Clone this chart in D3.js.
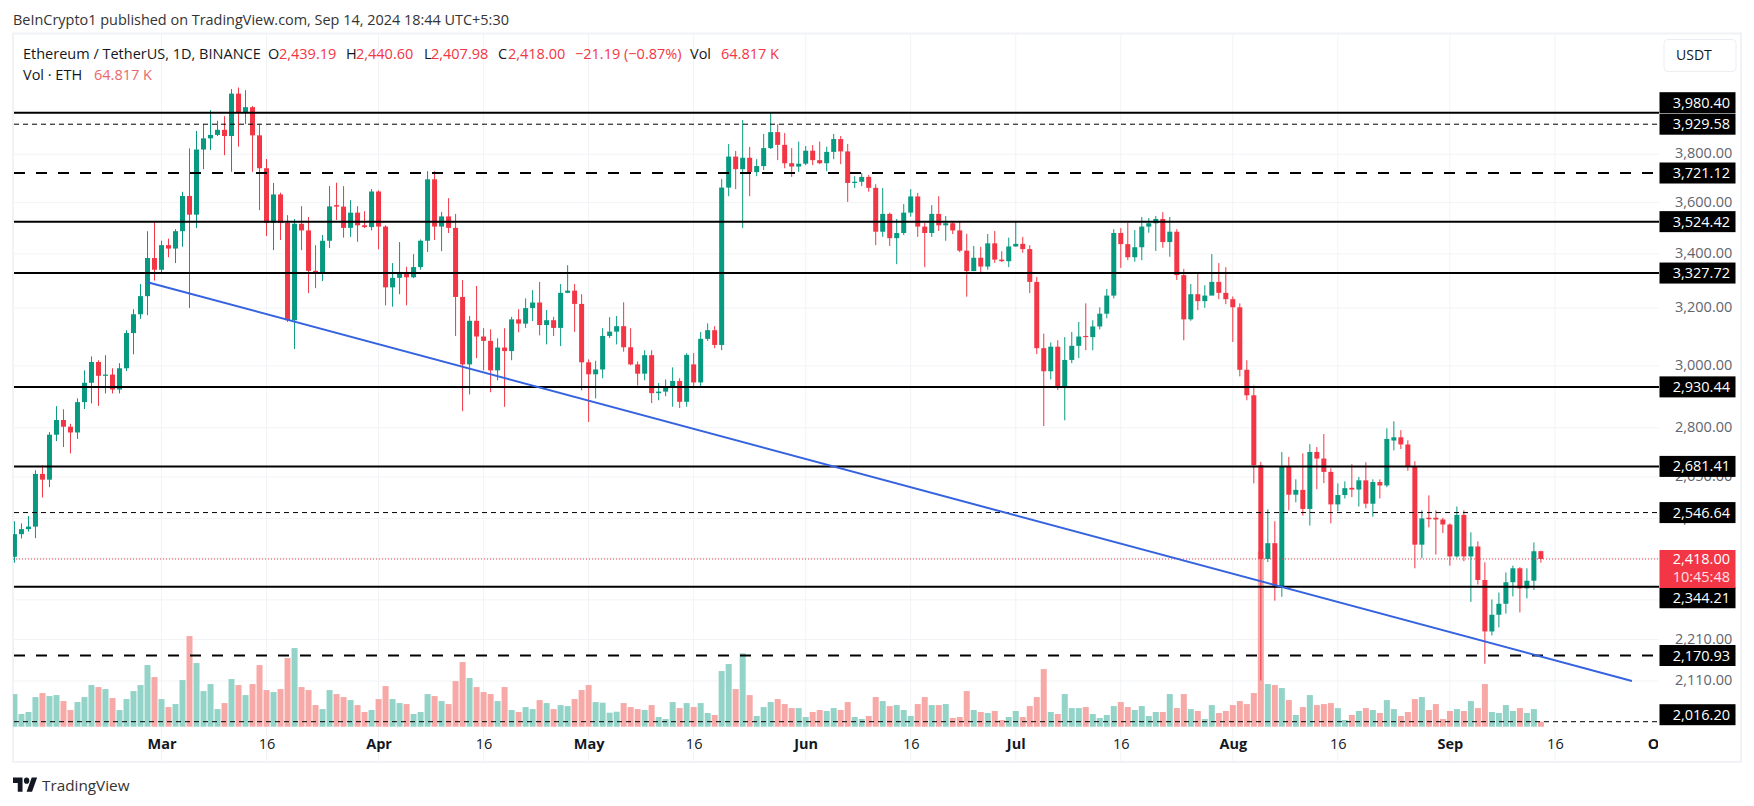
<!DOCTYPE html>
<html lang="en">
<head>
<meta charset="utf-8">
<script src="https://cdn.jsdelivr.net/npm/d3@7"></script>
<style>
  body { margin: 0; background: #fff; }
  text { font-family: "Open Sans", sans-serif; }
</style>
</head>
<body>
<svg id="chart" width="1754" height="806"></svg>
<script>
// daily candles, first one is 2024-02-09
var firstDay = "2024-02-09";

var opens = [
  2424,2486,2500,2507,2659,2642,2778,2824,2803,2785,
  2881,2944,3013,2967,2971,2922,2992,3112,3178,3243,
  3384,3340,3433,3420,3487,3627,3552,3820,3868,3883,
  3905,3878,4066,3982,4005,3881,3741,3520,3633,3520,
  3157,3516,3490,3336,3330,3450,3590,3584,3500,3560,
  3510,3503,3645,3505,3275,3310,3330,3312,3350,3450,
  3695,3505,3545,3500,3240,3005,3155,3100,3085,2985,
  3062,3050,3160,3145,3200,3220,3140,3157,3130,3255,
  3263,3215,3012,2972,2988,3102,3117,3136,3063,3005,
  2974,3036,2910,2915,2930,2950,2882,3005,2945,3092,
  3122,3071,3661,3790,3737,3785,3725,3750,3826,3895,
  3840,3762,3748,3760,3815,3775,3762,3810,3865,3812,
  3680,3685,3705,3660,3485,3555,3460,3480,3560,3625,
  3505,3480,3555,3510,3518,3490,3412,3335,3385,3352,
  3440,3378,3372,3428,3438,3418,3295,3060,2982,3065,
  2932,3020,3068,3102,3098,3135,3180,3245,3480,3437,
  3387,3425,3505,3518,3535,3445,3485,3320,3160,3250,
  3225,3245,3295,3255,3232,3203,2987,2903,2685,2418,
  2461,2342,2682,2598,2612,2557,2725,2705,2665,2570,
  2597,2618,2613,2640,2572,2635,2625,2760,2770,2748,
  2680,2457,2532,2532,2527,2513,2425,2540,2425,2452,
  2362,2230,2272,2300,2356,2393,2340,2360,2439.19
];
var highs = [
  2522,2516,2537,2670,2685,2786,2868,2858,2812,2893,
  2985,3032,3019,3036,2992,3009,3122,3196,3287,3487,
  3522,3450,3458,3495,3644,3825,3900,3930,3992,3945,
  3965,4087,4094,4082,4010,3930,3780,3680,3640,3550,
  3535,3586,3543,3433,3472,3667,3681,3667,3610,3586,
  3566,3655,3650,3510,3365,3445,3351,3399,3455,3729,
  3729,3563,3618,3555,3302,3172,3280,3129,3125,3094,
  3129,3169,3196,3235,3265,3295,3193,3169,3287,3357,
  3287,3250,3022,3017,3129,3168,3172,3221,3129,3015,
  3053,3053,2943,2955,2995,2959,3043,3043,3116,3146,
  3136,3696,3844,3814,3948,3831,3779,3887,3979,3930,
  3891,3826,3854,3835,3839,3854,3832,3887,3878,3844,
  3708,3721,3713,3675,3659,3560,3535,3594,3655,3639,
  3519,3590,3626,3547,3524,3525,3477,3430,3427,3476,
  3488,3410,3462,3524,3465,3433,3313,3110,3080,3087,
  3098,3116,3151,3217,3157,3203,3269,3495,3499,3519,
  3491,3543,3539,3547,3562,3543,3495,3343,3287,3328,
  3283,3399,3365,3350,3242,3217,3019,2935,2695,2556,
  2522,2725,2710,2643,2721,2749,2740,2780,2676,2631,
  2637,2688,2650,2694,2643,2643,2798,2820,2792,2761,
  2697,2553,2596,2553,2532,2516,2564,2553,2491,2466,
  2409,2311,2329,2382,2400,2396,2393,2463,2440.6
];
var lows = [
  2408,2474,2493,2475,2590,2620,2758,2740,2721,2765,
  2859,2877,2869,2909,2909,2909,2983,3039,3162,3175,
  3300,3331,3387,3365,3427,3200,3499,3737,3818,3878,
  3796,3726,3832,3930,3726,3570,3468,3414,3453,3151,
  3057,3414,3254,3272,3298,3422,3531,3462,3465,3446,
  3499,3490,3417,3210,3205,3250,3210,3309,3340,3407,
  3453,3410,3480,3102,2852,2906,3026,2985,2913,2952,
  2866,3019,3115,3130,3154,3104,3073,3102,3067,3254,
  3116,2919,2818,2893,2959,3095,3073,3048,3002,2935,
  2952,2878,2887,2900,2866,2862,2866,2926,2932,3085,
  3060,3053,3626,3655,3499,3626,3708,3733,3822,3775,
  3741,3705,3726,3754,3754,3758,3729,3779,3758,3603,
  3659,3667,3644,3433,3465,3430,3361,3472,3544,3465,
  3350,3465,3488,3450,3476,3406,3241,3335,3330,3340,
  3366,3370,3350,3427,3404,3254,3040,2805,2955,2920,
  2823,3009,3026,3053,3053,3125,3164,3235,3347,3376,
  3370,3376,3481,3411,3423,3389,3302,3087,3155,3193,
  3201,3258,3232,3214,3081,2965,2887,2631,2111,2410,
  2308,2318,2553,2576,2538,2510,2614,2632,2516,2550,
  2587,2591,2564,2559,2535,2587,2620,2730,2734,2668,
  2393,2420,2505,2430,2489,2400,2422,2412,2305,2350,
  2151,2220,2240,2275,2319,2278,2314,2336,2407.98
];
var closes = [
  2486,2500,2507,2659,2642,2778,2824,2803,2785,2881,
  2944,3013,2967,2971,2922,2992,3112,3178,3243,3384,
  3340,3433,3420,3487,3627,3552,3820,3868,3883,3905,
  3878,4066,3982,4005,3881,3741,3520,3633,3520,3157,
  3516,3490,3336,3330,3450,3585,3584,3500,3560,3510,
  3503,3645,3505,3275,3310,3330,3312,3350,3450,3695,
  3505,3545,3500,3240,3005,3155,3100,3085,2985,3062,
  3050,3160,3145,3200,3220,3140,3157,3130,3255,3263,
  3215,3012,2972,2988,3102,3117,3136,3063,3005,2974,
  3036,2910,2915,2930,2950,2882,3037,2945,3092,3122,
  3071,3661,3790,3737,3785,3725,3750,3826,3895,3840,
  3762,3748,3760,3815,3775,3762,3810,3865,3812,3680,
  3685,3705,3660,3485,3555,3460,3480,3560,3625,3505,
  3480,3555,3510,3518,3490,3412,3335,3385,3352,3440,
  3378,3372,3428,3438,3418,3295,3060,2982,3065,2932,
  3020,3068,3100,3098,3135,3180,3245,3480,3437,3387,
  3425,3505,3518,3535,3445,3485,3320,3160,3250,3225,
  3245,3295,3255,3232,3203,2987,2903,2685,2418,2461,
  2342,2682,2598,2612,2557,2725,2705,2665,2570,2597,
  2617,2613,2640,2572,2635,2625,2765,2770,2748,2680,
  2457,2530,2528,2527,2513,2425,2540,2425,2452,2362,
  2230,2272,2300,2356,2393,2340,2360,2439,2418
];
// volume in thousands of ETH
var volumes = [
  424,165,191,385,437,398,411,333,217,320,
  385,541,515,489,372,217,359,463,541,801,
  645,359,255,294,606,1178,827,463,554,229,
  307,619,541,411,554,801,476,450,489,892,
  1022,515,476,281,229,476,424,385,346,281,
  191,217,359,528,359,307,294,165,191,424,
  398,333,294,593,840,632,515,450,424,333,
  515,217,191,255,229,346,307,229,281,268,
  359,476,541,320,312,182,195,307,255,229,
  217,281,126,100,320,242,307,255,307,178,
  152,723,814,489,953,411,139,255,320,359,
  294,242,242,126,191,217,204,242,217,320,
  126,100,139,385,333,268,281,217,139,294,
  385,281,281,294,113,126,463,217,191,178,
  204,87,126,204,126,268,385,749,191,165,
  424,242,242,255,165,113,152,268,320,255,
  217,268,139,191,191,424,242,424,229,204,
  100,281,178,204,281,333,294,437,2275,554,
  541,502,346,152,255,411,281,294,307,242,
  87,152,204,242,217,178,346,229,139,191,
  359,385,217,294,100,204,229,204,333,242,
  554,191,178,281,204,242,178,229,65
];

var priceTicks = [3800,3600,3400,3200,3000,2800,2650,2530,2420,2310,2210,2110];
var timeTicks = ["2024-03-01","2024-03-16","2024-04-01","2024-04-16","2024-05-01","2024-05-16","2024-06-01","2024-06-16","2024-07-01","2024-07-16","2024-08-01","2024-08-16","2024-09-01","2024-09-16","2024-10-01"];
var timeLabels = ["Mar","16","Apr","16","May","16","Jun","16","Jul","16","Aug","16","Sep","16","Oct"];

var solidLevels = [3980.40,3524.42,3327.72,2930.44,2681.41,2344.21];
var wideDashLevels = [3721.12,2170.93];
var thinDashLevels = [3929.58,2546.64,2016.20];
var lastPrice = 2418.00;
var trendDates = ["2024-02-28","2024-09-27"];
var trendPrices = [3294,2110];

var green = "#089981", red = "#f23645";
var left = 13, right = 1659, top_ = 33, bottom = 733;

var svg = d3.select("#chart");
var parse = d3.utcParse("%Y-%m-%d");
var data = opens.map(function(o,i){
  return {date:d3.utcDay.offset(parse(firstDay),i),o:o,h:highs[i],l:lows[i],c:closes[i],v:volumes[i]};
});

var x = d3.scaleUtc().domain([parse("2024-03-01"),parse("2024-09-16")]).range([161.5,1554.9]);
var y = d3.scaleLog().domain([3980.40,2016.20]).range([112.7,721.7]);
var yVol = d3.scaleLinear().domain([0,2300]).range([726.7,549.7]);

var defs = svg.append("defs");
defs.append("clipPath").attr("id","plot")
  .append("rect").attr("x",left).attr("y",top_).attr("width",right-left).attr("height",729);
defs.append("clipPath").attr("id","timeclip")
  .append("rect").attr("x",left).attr("y",-5).attr("width",right-left-1).attr("height",29);

// frame
svg.append("rect").attr("x",13).attr("y",33.5).attr("width",1728).attr("height",728.5)
  .attr("fill","#fff").attr("stroke","#f0f2f5").attr("stroke-width",2);

// grid
svg.append("g").selectAll("line").data(priceTicks).enter().append("line")
  .attr("x1",left).attr("x2",right).attr("y1",function(d){return y(d);}).attr("y2",function(d){return y(d);})
  .attr("stroke","#f1f3f6");
svg.append("g").selectAll("line").data(timeTicks.slice(0,-1)).enter().append("line")
  .attr("y1",top_).attr("y2",bottom+29).attr("x1",function(d){return x(parse(d));}).attr("x2",function(d){return x(parse(d));})
  .attr("stroke","#f1f3f6");

var plot = svg.append("g").attr("clip-path","url(#plot)");

// volume
plot.append("g").selectAll("rect").data(data).enter().append("rect")
  .attr("x",function(d){return x(d.date)-3;})
  .attr("width",6)
  .attr("y",function(d){return yVol(d.v);})
  .attr("height",function(d){return yVol(0)-yVol(d.v);})
  .attr("fill",function(d){return d.c>=d.o?"#94d3c8":"#f7a9a7";});

// candles
var candles = plot.append("g").selectAll("g").data(data).enter().append("g")
  .attr("fill",function(d){return d.c>=d.o?green:red;});
candles.append("rect")
  .attr("x",function(d){return x(d.date)-0.5;})
  .attr("width",1)
  .attr("y",function(d){return y(d.h);})
  .attr("height",function(d){return y(d.l)-y(d.h);});
candles.append("rect")
  .attr("x",function(d){return x(d.date)-2.5;})
  .attr("width",5)
  .attr("y",function(d){return y(Math.max(d.o,d.c));})
  .attr("height",function(d){return Math.max(1,Math.abs(y(d.o)-y(d.c)));});

// last price line
plot.append("line").attr("x1",left).attr("x2",right).attr("y1",y(lastPrice)).attr("y2",y(lastPrice))
  .attr("stroke",red).attr("stroke-dasharray","1,2");

// horizontal levels
function levels(values,width,dash){
  svg.append("g").selectAll("line").data(values).enter().append("line")
    .attr("x1",left+1).attr("x2",right)
    .attr("y1",function(d){return y(d);}).attr("y2",function(d){return y(d);})
    .attr("stroke","#000").attr("stroke-width",width)
    .attr("stroke-dasharray",dash);
}
levels(solidLevels,2,null);
levels(wideDashLevels,2,"11,11");
levels(thinDashLevels,1,"5,4");

// trend line
svg.append("line")
  .attr("x1",x(parse(trendDates[0]))).attr("y1",y(trendPrices[0]))
  .attr("x2",x(parse(trendDates[1]))).attr("y2",y(trendPrices[1]))
  .attr("stroke","#3563e0").attr("stroke-width",2);

// price axis
var priceAxis = svg.append("g").attr("transform","translate("+right+",0)")
  .call(d3.axisRight(y).tickValues(priceTicks).tickFormat(d3.format(",.2f")).tickSize(0).tickPadding(16));
priceAxis.select(".domain").remove();
priceAxis.selectAll("text").attr("font-family",null).attr("font-size",14.5).attr("fill","#62656f").attr("dy","0.25em");

// time axis
var timeAxis = svg.append("g").attr("transform","translate(0,738)").attr("clip-path","url(#timeclip)")
  .call(d3.axisBottom(x).tickValues(timeTicks.map(parse)).tickFormat(function(d,i){return timeLabels[i];}).tickSize(0).tickPadding(0));
timeAxis.select(".domain").remove();
timeAxis.selectAll("text").attr("font-family",null).attr("font-size",14.5).attr("fill","#131722")
  .attr("font-weight",function(d,i){return timeLabels[i]=="16"?400:700;})
  .attr("dy","0.75em");

// level labels, some sit off their line to avoid overlap
var labelShift = {"3980.4":-10,"2344.21":11,"2016.2":-7};
var allLevels = solidLevels.concat(wideDashLevels,thinDashLevels);
var tags = svg.append("g").selectAll("g").data(allLevels).enter().append("g")
  .attr("transform",function(d){return "translate("+right+","+(y(d)+(labelShift[d]||0))+")";});
tags.append("rect").attr("x",0.5).attr("y",-10.5).attr("width",76).attr("height",21).attr("fill","#000");
tags.append("text").attr("x",71).attr("dy","0.35em").attr("text-anchor","end")
  .attr("font-size",14.5).attr("fill","#fff")
  .text(function(d){return d3.format(",.2f")(d);});

var priceTag = svg.append("g").attr("transform","translate("+right+",550)");
priceTag.append("rect").attr("x",0.5).attr("width",76).attr("height",38).attr("fill",red);
priceTag.append("text").attr("x",71).attr("y",14).attr("text-anchor","end").attr("font-size",14.5).attr("fill","#fff")
  .text(d3.format(",.2f")(lastPrice));
priceTag.append("text").attr("x",71).attr("y",32).attr("text-anchor","end").attr("font-size",14.5).attr("fill","#fff").attr("opacity",0.85)
  .text("10:45:48");

// USDT button
svg.append("rect").attr("x",1664).attr("y",39.5).attr("width",72).attr("height",32).attr("rx",4)
  .attr("fill","#fff").attr("stroke","#eceef1");
svg.append("text").attr("x",1676).attr("y",60).attr("font-size",14).attr("fill","#131722").text("USDT");

// header and legend
svg.append("text").attr("x",13).attr("y",25).attr("font-size",14.45).attr("fill","#333").text("BeInCrypto1 published on TradingView.com, Sep 14, 2024 18:44 UTC+5:30");

var legend = svg.append("g").attr("font-size",14.5);
function legendText(px,py,str,color){
  legend.append("text").attr("x",px).attr("y",py).attr("fill",color).text(str);
}
legendText(23,59,"Ethereum / TetherUS, 1D, BINANCE","#131722");
legendText(268,59,"O","#131722");
legendText(279,59,"2,439.19",red);
legendText(346,59,"H","#131722");
legendText(356,59,"2,440.60",red);
legendText(424,59,"L","#131722");
legendText(431,59,"2,407.98",red);
legendText(498,59,"C","#131722");
legendText(508,59,"2,418.00",red);
legendText(575,59,"\u221221.19 (\u22120.87%)",red);
legendText(690,59,"Vol","#131722");
legendText(721,59,"64.817 K",red);
legendText(23,80,"Vol \u00b7 ETH","#131722");
legendText(94,80,"64.817 K","#e8686c");

// watermark
svg.append("g").attr("transform","translate(13,774.5) scale(0.68,0.78)")
  .call(function(g){
    g.append("path").attr("d","M14 22H7V11H0V4h14v18zM28 22h-8l7.5-18h8L28 22z").attr("fill","#131722");
    g.append("circle").attr("cx",20).attr("cy",8).attr("r",4).attr("fill","#131722");
  });
svg.append("text").attr("x",42).attr("y",791).attr("font-size",15.3).attr("fill","#333").text("TradingView");
</script>
</body>
</html>
